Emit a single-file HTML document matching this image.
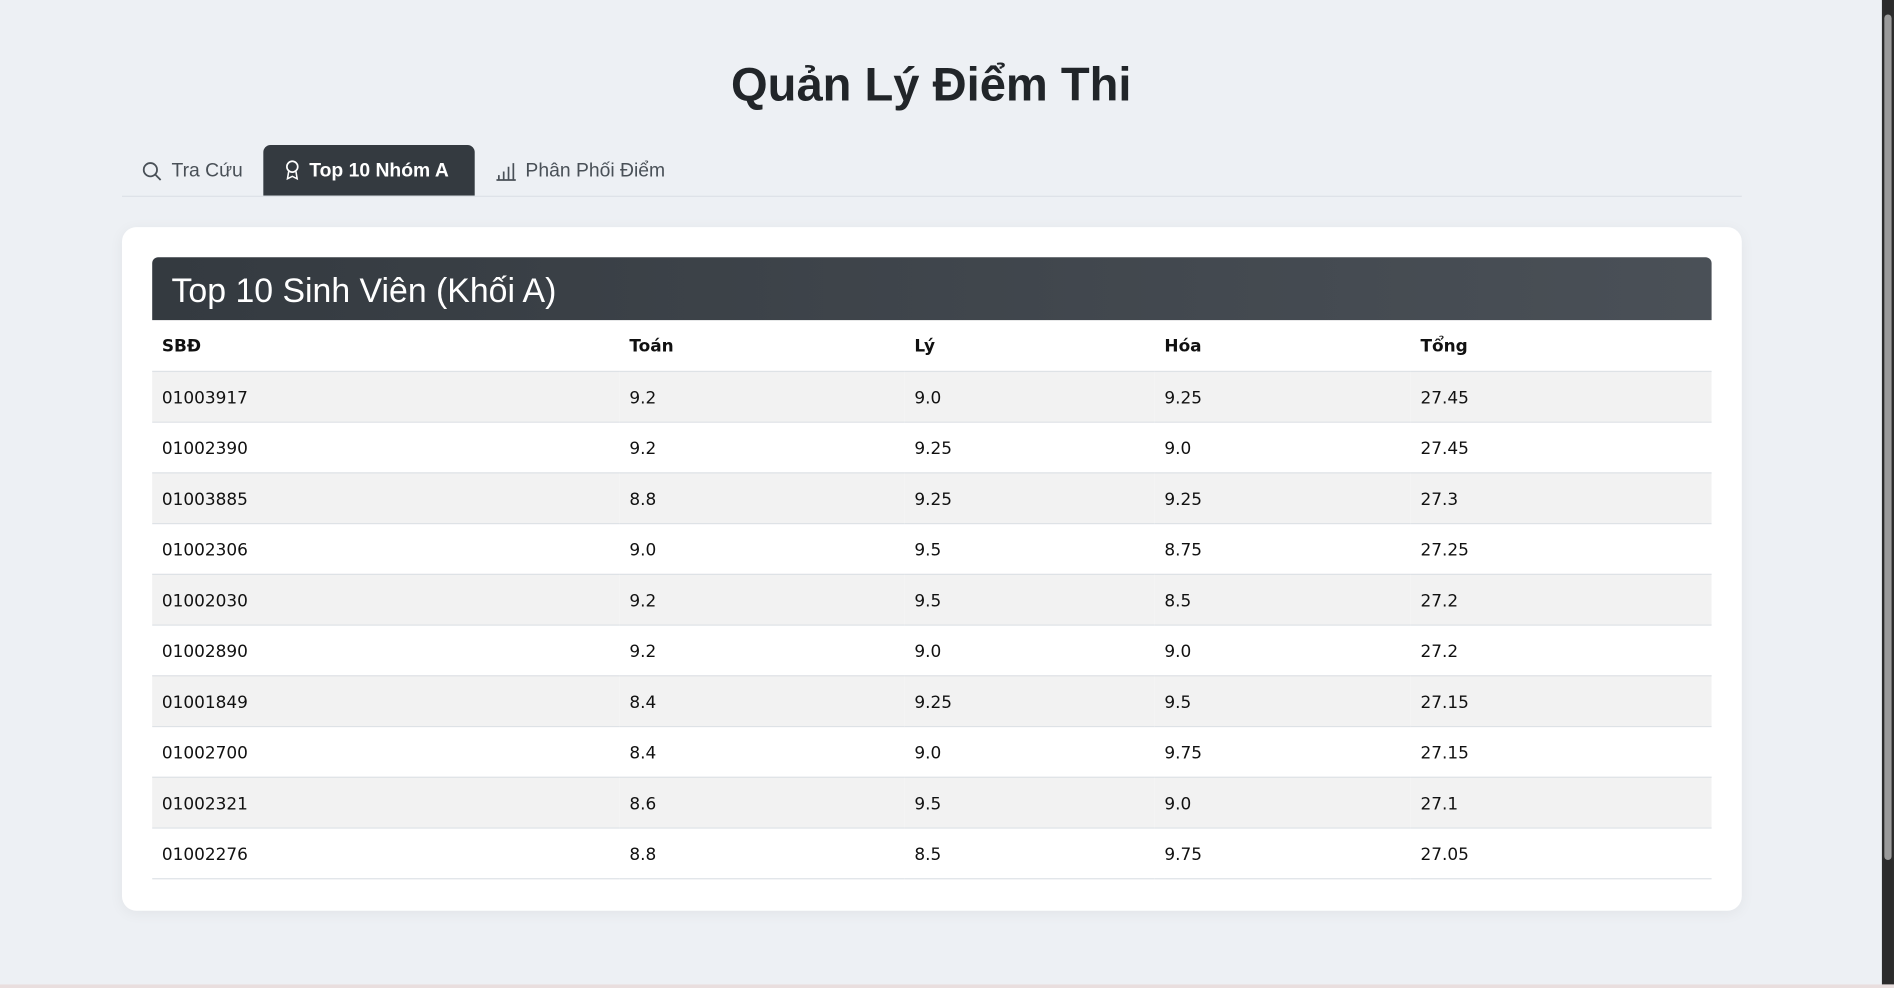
<!DOCTYPE html>
<html><head><meta charset="utf-8"><style>
html,body{margin:0;padding:0;width:1894px;height:988px;overflow:hidden;background:#edf0f4;}
#wrap{position:absolute;left:0;top:0;width:1568px;height:818px;transform:scale(1.2079);transform-origin:0 0;font-family:"Liberation Sans",sans-serif;color:#212529;}
h1{position:absolute;left:0;width:1542px;top:49px;margin:0;text-align:center;font-size:39px;font-weight:600;}
.navline{position:absolute;left:101px;width:1341px;top:162px;height:1px;background:#dde1e6;}
.tab{position:absolute;top:121px;height:41px;line-height:43px;font-size:16px;color:#495057;display:flex;align-items:center;gap:7px;padding:0 17px;box-sizing:border-box;}
.tab.active{top:120px;height:42px;background:#343a40;color:#fff;border-radius:6px 6px 0 0;font-weight:bold;}
.card{position:absolute;left:101px;top:188px;width:1341px;height:566px;background:#fff;border-radius:12px;box-shadow:0 2px 12px rgba(0,0,0,.05);}
.hdr{position:absolute;left:25px;top:25px;width:1291px;height:52px;background:linear-gradient(90deg,#343a40,#4a5057);border-radius:5px 5px 0 0;color:#fff;font-size:28px;line-height:55px;padding-left:16px;box-sizing:border-box;}
table{position:absolute;left:25px;top:77px;width:1291px;border-collapse:collapse;font-family:"DejaVu Sans",sans-serif;font-size:14px;color:#111;}
tr{height:42px;}
td,th{height:42px;border-bottom:1px solid #dee2e6;text-align:left;padding:3px 0 0 8px;box-sizing:border-box;}
th{font-weight:bold;font-size:14px;}
tbody tr:nth-child(odd){background:#f2f2f2;}
.sb{position:absolute;left:1558px;top:0;width:10px;height:815px;background:#2b2b2b;}
.sb i{position:absolute;left:2px;top:12px;width:6px;height:700px;background:#9a9a9a;border-radius:3px;}
.bot{position:absolute;left:0;top:815px;width:1568px;height:3px;background:#e9dede;}
</style></head><body>
<div id="wrap">
<h1>Quản Lý Điểm Thi</h1>
<div class="tab" style="left:100px"><svg width="18" height="18" viewBox="0 0 18 18"><circle cx="7.5" cy="7.5" r="5.5" fill="none" stroke="#495057" stroke-width="1.5"/><line x1="11.5" y1="11.5" x2="16" y2="16" stroke="#495057" stroke-width="1.5"/></svg>Tra Cứu</div>
<div class="tab active" style="left:218px;width:175px"><svg width="14" height="18" viewBox="0 0 14 18"><circle cx="7" cy="6" r="4.5" fill="none" stroke="#fff" stroke-width="1.4"/><path d="M4 10 L3 16 L7 14 L11 16 L10 10" fill="none" stroke="#fff" stroke-width="1.3"/></svg>Top 10 Nhóm A</div>
<div class="tab" style="left:393px"><svg width="18" height="16" viewBox="0 0 18 16"><path d="M1 15H17M3 15V11M7 15V8M11 15V4M15 15V1" stroke="#495057" stroke-width="1.4" fill="none"/></svg>Phân Phối Điểm</div>
<div class="navline"></div>
<div class="card">
<div class="hdr">Top 10 Sinh Viên (Khối A)</div>
<table>
<colgroup><col style="width:387px"><col style="width:236px"><col style="width:207px"><col style="width:212px"><col></colgroup>
<thead><tr><th>SBĐ</th><th>Toán</th><th>Lý</th><th>Hóa</th><th>Tổng</th></tr></thead>
<tbody id="tb"></tbody></table>
</div>
<div class="sb"><i></i></div>
<div class="bot"></div>
</div>
<script>
const sbd=["01003917","01002390","01003885","01002306","01002030","01002890","01001849","01002700","01002321","01002276"];
const toan=["9.2","9.2","8.8","9.0","9.2","9.2","8.4","8.4","8.6","8.8"];
const ly=["9.0","9.25","9.25","9.5","9.5","9.0","9.25","9.0","9.5","8.5"];
const hoa=["9.25","9.0","9.25","8.75","8.5","9.0","9.5","9.75","9.0","9.75"];
const tong=["27.45","27.45","27.3","27.25","27.2","27.2","27.15","27.15","27.1","27.05"];
const tb=document.getElementById('tb');
for(let i=0;i<sbd.length;i++){
 const tr=document.createElement('tr');
 
 
 [sbd[i],toan[i],ly[i],hoa[i],tong[i]].forEach(v=>{const td=document.createElement('td');td.textContent=v;tr.appendChild(td);});
 tb.appendChild(tr);
}
</script>
</body></html>
